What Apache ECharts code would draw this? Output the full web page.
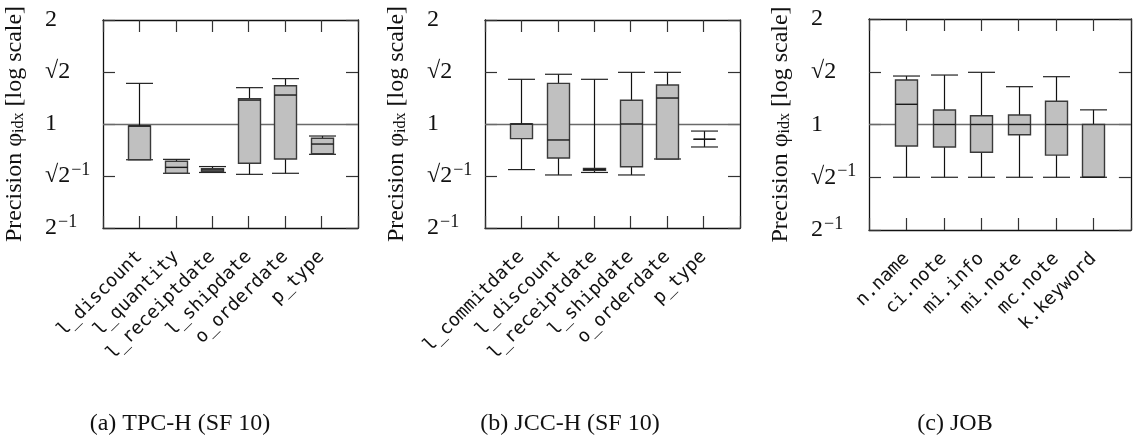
<!DOCTYPE html>
<html>
<head>
<meta charset="utf-8">
<script src="https://cdn.jsdelivr.net/npm/echarts@6/dist/echarts.min.js"></script>
<style>
  html, body { margin: 0; padding: 0; background: #fff; }
  #chart { width: 1133px; height: 443px; }
</style>
</head>
<body>
<div id="chart"></div>
<script>
// Precision of the index estimate per column, shown as box plots (log2 scale)

// (a) TPC-H (SF 10)
const tpchNames  = ['l_discount', 'l_quantity', 'l_receiptdate', 'l_shipdate', 'o_orderdate', 'p_type'];
const tpchMin    = [0.788, 0.720, 0.724, 0.715, 0.720, 0.817];
const tpchQ1     = [0.788, 0.720, 0.728, 0.770, 0.792, 0.820];
const tpchMedian = [0.987, 0.749, 0.736, 1.173, 1.213, 0.875];
const tpchQ3     = [0.987, 0.780, 0.742, 1.184, 1.291, 0.909];
const tpchMax    = [1.311, 0.790, 0.753, 1.274, 1.353, 0.923];

// (b) JCC-H (SF 10)
const jcchNames  = ['l_commitdate', 'l_discount', 'l_receiptdate', 'l_shipdate', 'o_orderdate', 'p_type'];
const jcchMin    = [0.738, 0.712, 0.724, 0.712, 0.792, 0.858];
const jcchQ1     = [0.907, 0.797, 0.735, 0.752, 0.792, 0.903];
const jcchMedian = [1.000, 0.899, 0.739, 1.000, 1.189, 0.903];
const jcchQ3     = [1.000, 1.311, 0.744, 1.171, 1.297, 0.903];
const jcchMax    = [1.347, 1.393, 1.347, 1.411, 1.411, 0.954];

// (c) JOB
const jobNames   = ['n.name', 'ci.note', 'mi.info', 'mi.note', 'mc.note', 'k.keyword'];
const jobMin     = [0.707, 0.707, 0.707, 0.707, 0.707, 0.707];
const jobQ1      = [0.868, 0.863, 0.833, 0.935, 0.818, 0.707];
const jobMedian  = [1.142, 1.000, 1.000, 1.000, 1.000, 0.707];
const jobQ3      = [1.340, 1.100, 1.059, 1.064, 1.165, 1.000];
const jobMax     = [1.375, 1.384, 1.409, 1.282, 1.369, 1.101];

// y ticks in log2 space and their labels
const yTickExponents = [-1, -0.5, 0, 0.5, 1];
const yTickLabels    = ['2{sup|−1}', '√2{sup|−1}', '1', '√2', '2'];
const referenceValue = 1;

const captions = ['(a) TPC-H (SF 10)', '(b) JCC-H (SF 10)', '(c) JOB'];

const panels = [
  { names: tpchNames, min: tpchMin, q1: tpchQ1, med: tpchMedian, q3: tpchQ3, max: tpchMax },
  { names: jcchNames, min: jcchMin, q1: jcchQ1, med: jcchMedian, q3: jcchQ3, max: jcchMax },
  { names: jobNames,  min: jobMin,  q1: jobQ1,  med: jobMedian,  q3: jobQ3,  max: jobMax }
];

// layout of the three plot areas
const gridBoxes = [
  { left: 103, top: 20, width: 255, height: 208 },
  { left: 485, top: 20, width: 255, height: 208 },
  { left: 869, top: 19, width: 262, height: 211 }
];
const captionCenters = [175, 565, 950];

const SERIF = 'Liberation Serif';
const MONO = 'DejaVu Sans Mono';
const FRAME = '#111';

function renderBox(params, api) {
  const x = api.value(0);
  const pMin = api.coord([x, api.value(1)]);
  const pQ1  = api.coord([x, api.value(2)]);
  const pMed = api.coord([x, api.value(3)]);
  const pQ3  = api.coord([x, api.value(4)]);
  const pMax = api.coord([x, api.value(5)]);
  const cx = Math.round(pMin[0]) + 0.5;
  const bw = 22, cw = 27;
  return {
    type: 'group',
    children: [
      { type: 'line', shape: { x1: cx, y1: pMin[1], x2: cx, y2: pMax[1] },
        style: { stroke: '#111', lineWidth: 1.2 } },
      { type: 'line', shape: { x1: cx - cw / 2, y1: pMin[1], x2: cx + cw / 2, y2: pMin[1] },
        style: { stroke: '#222', lineWidth: 1.2 } },
      { type: 'line', shape: { x1: cx - cw / 2, y1: pMax[1], x2: cx + cw / 2, y2: pMax[1] },
        style: { stroke: '#222', lineWidth: 1.2 } },
      { type: 'rect', shape: { x: cx - bw / 2, y: pQ3[1], width: bw, height: pQ1[1] - pQ3[1] },
        style: { fill: '#c0c0c0', stroke: '#3a3a3a', lineWidth: 1.4 } },
      { type: 'line', shape: { x1: cx - bw / 2, y1: pMed[1], x2: cx + bw / 2, y2: pMed[1] },
        style: { stroke: '#1a1a1a', lineWidth: 1.4 } }
    ]
  };
}

const grid = [], xAxis = [], yAxis = [], series = [], title = [];

panels.forEach((p, i) => {
  grid.push(Object.assign({ show: false }, gridBoxes[i]));

  // bottom axis carries the column names, top axis only the inward ticks
  xAxis.push({
    type: 'value', gridIndex: i, min: 0, max: 7, interval: 1, position: 'bottom',
    axisLine: { show: true, onZero: false, lineStyle: { color: FRAME, width: 1.3 } },
    axisTick: { show: true, inside: true, length: 12, lineStyle: { color: '#333', width: 1.2 } },
    splitLine: { show: false },
    axisLabel: {
      show: true, rotate: 45, margin: 26, fontFamily: MONO, fontSize: 18.5, color: '#111',
      formatter: v => p.names[v - 1] || ''
    }
  });
  xAxis.push({
    type: 'value', gridIndex: i, min: 0, max: 7, interval: 1, position: 'top',
    axisLine: { show: true, onZero: false, lineStyle: { color: FRAME, width: 1.3 } },
    axisTick: { show: true, inside: true, length: 12, lineStyle: { color: '#333', width: 1.2 } },
    splitLine: { show: false },
    axisLabel: { show: false }
  });

  yAxis.push({
    type: 'value', gridIndex: i, min: -1, max: 1, interval: 0.5, position: 'left',
    name: 'Precision φ{sub|idx} [log scale]',
    nameLocation: 'middle', nameRotate: 90, nameGap: 76,
    nameTextStyle: {
      fontFamily: SERIF, fontSize: 24, color: '#111',
      rich: { sub: { fontFamily: SERIF, fontSize: 16, color: '#111', padding: [9, 0, 0, 0] } }
    },
    axisLine: { show: true, onZero: false, lineStyle: { color: FRAME, width: 1.3 } },
    axisTick: { show: true, inside: true, length: 12, lineStyle: { color: '#333', width: 1.2 } },
    splitLine: { show: false },
    axisLabel: {
      show: true, align: 'left', margin: 58, fontFamily: SERIF, fontSize: 24, color: '#111',
      formatter: v => yTickLabels[yTickExponents.indexOf(v)] || '',
      rich: { sup: { fontFamily: SERIF, fontSize: 18, color: '#111', padding: [0, 0, 12, 1] } }
    }
  });
  yAxis.push({
    type: 'value', gridIndex: i, min: -1, max: 1, interval: 0.5, position: 'right',
    axisLine: { show: true, onZero: false, lineStyle: { color: FRAME, width: 1.3 } },
    axisTick: { show: true, inside: true, length: 12, lineStyle: { color: '#333', width: 1.2 } },
    splitLine: { show: false },
    axisLabel: { show: false }
  });

  const data = p.names.map((n, k) => [
    k + 1,
    Math.log2(p.min[k]), Math.log2(p.q1[k]), Math.log2(p.med[k]),
    Math.log2(p.q3[k]), Math.log2(p.max[k])
  ]);

  series.push({
    type: 'custom', xAxisIndex: 2 * i, yAxisIndex: 2 * i, z: 3,
    renderItem: renderBox, data: data, clip: false,
    encode: { x: 0, y: [1, 2, 3, 4, 5] },
    markLine: {
      silent: true, symbol: 'none', z: 1, animation: false,
      label: { show: false },
      lineStyle: { color: '#6a6a6a', width: 1.4, type: 'solid' },
      data: [{ yAxis: Math.log2(referenceValue) }]
    }
  });

  title.push({
    text: captions[i], left: captionCenters[i], top: 407, textAlign: 'center',
    textStyle: { fontFamily: SERIF, fontSize: 24, fontWeight: 'normal', color: '#111' }
  });
});

const chart = echarts.init(document.getElementById('chart'), null, { renderer: 'canvas' });
chart.setOption({
  animation: false,
  backgroundColor: '#fff',
  title, grid, xAxis, yAxis, series
});
</script>
</body>
</html>
